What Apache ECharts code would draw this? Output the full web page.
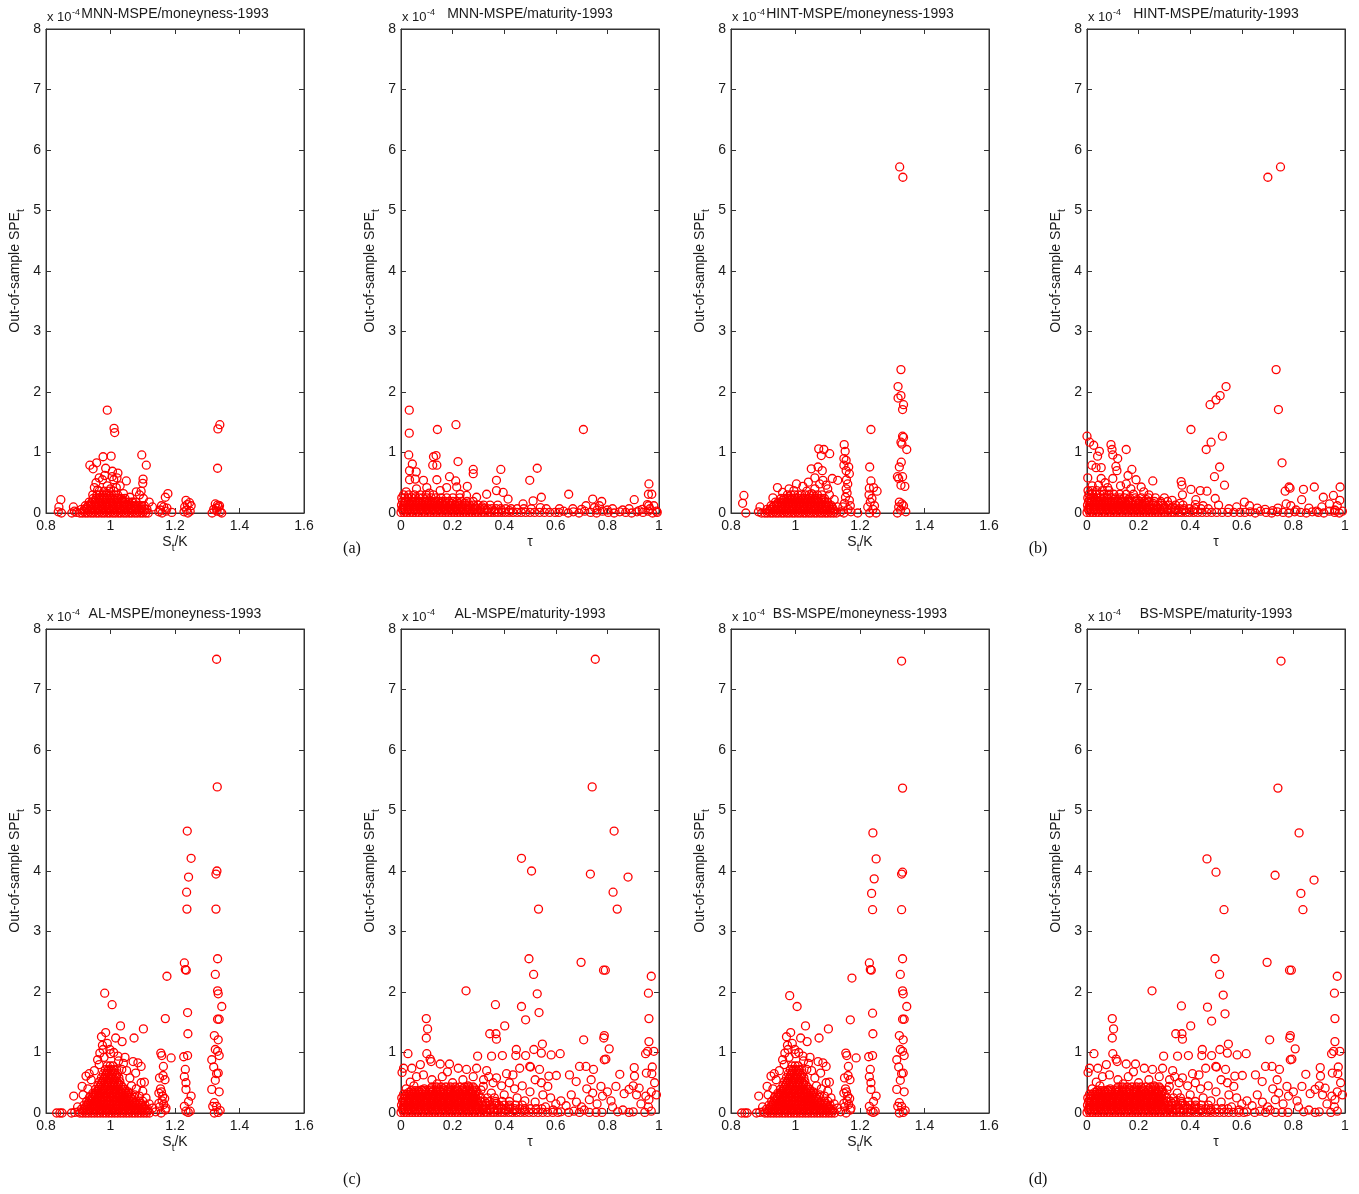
<!DOCTYPE html>
<html><head><meta charset="utf-8">
<script src="https://cdn.jsdelivr.net/npm/echarts/dist/echarts.min.js"></script>
<style>html,body{margin:0;padding:0;background:#fff}#c{width:1359px;height:1194px}</style>
</head><body><div id="c"></div>
<script>
// ---------- tick labels / text ----------
const yTicks = [0,1,2,3,4,5,6,7,8];            // in units of 1e-4
const moneyTicks = [0.8,1.0,1.2,1.4,1.6];
const maturityTicks = [0,0.2,0.4,0.6,0.8,1.0];
const titles = ['MNN-MSPE/moneyness-1993','MNN-MSPE/maturity-1993','HINT-MSPE/moneyness-1993','HINT-MSPE/maturity-1993',
                'AL-MSPE/moneyness-1993','AL-MSPE/maturity-1993','BS-MSPE/moneyness-1993','BS-MSPE/maturity-1993'];
const subLabels = ['(a)','(b)','(c)','(d)'];

// ---------- data (y in units of 1e-4) ----------
// dense cores: [y, [x values]] read row by row from the solid blobs
const mnnMoneyCore = [
 [0.00,[0.905,0.913,0.922,0.930,0.939,0.947,0.956,0.964,0.973,0.981,0.990,0.998,1.007,1.015,1.024,1.032,1.041,1.049,1.058,1.066,1.075,1.083,1.092,1.100,1.109,1.117]],
 [0.03,[0.918,0.935,0.951,0.968,0.985,1.002,1.019,1.036,1.053,1.070,1.087,1.104]],
 [0.06,[0.910,0.919,0.927,0.936,0.944,0.953,0.961,0.970,0.978,0.987,0.995,1.004,1.012,1.021,1.029,1.038,1.046,1.055,1.063,1.072,1.080,1.089,1.097,1.106,1.113]],
 [0.09,[0.926,0.943,0.960,0.977,0.994,1.011,1.028,1.045,1.062,1.079,1.096]],
 [0.12,[0.922,0.931,0.940,0.948,0.957,0.965,0.974,0.982,0.991,0.999,1.008,1.016,1.025,1.033,1.042,1.050,1.059,1.068,1.077,1.086,1.096,1.105]],
 [0.15,[0.938,0.955,0.972,0.989,1.006,1.023,1.040,1.060]],
 [0.18,[0.934,0.943,0.952,0.960,0.969,0.977,0.986,0.994,1.003,1.011,1.020,1.028,1.037,1.046,1.056,1.066,1.078]],
 [0.21,[0.952,0.968,0.985,1.002,1.019,1.038]],
 [0.24,[0.946,0.955,0.964,0.972,0.981,0.989,0.998,1.006,1.015,1.024,1.034,1.045]],
 [0.30,[0.958,0.967,0.976,0.985,0.994,1.003,1.012,1.022]],
 [0.36,[0.965,0.980,0.995,1.010]]
];
const mnnMoneyPts = [
 [0.990,1.70],[1.011,1.40],[1.013,1.33],[1.339,1.46],[1.333,1.39],[1.332,0.74],[1.097,0.96],[1.111,0.79],[1.101,0.56],[1.100,0.49],
 [0.977,0.93],[1.002,0.94],[0.936,0.79],[0.946,0.73],[0.957,0.83],[0.985,0.74],[1.006,0.69],[1.023,0.66],[1.049,0.53],[1.080,0.35],
 [0.965,0.58],[0.975,0.55],[0.955,0.50],[0.990,0.45],[1.010,0.55],[1.030,0.45],[1.005,0.60],[0.950,0.42],[0.982,0.62],[1.020,0.58],
 [1.040,0.32],[1.060,0.26],[1.090,0.30],[1.102,0.24],[1.120,0.18],[1.130,0.10],[1.070,0.18],[0.960,0.38],[1.000,0.40],[1.018,0.42],[0.945,0.30],[1.095,0.36],
 [1.178,0.32],[1.170,0.26],[1.165,0.10],[1.155,0.05],[1.160,0.00],[1.150,0.02],[1.172,0.03],[1.175,0.08],[1.190,0.01],[1.158,0.12],
 [1.234,0.21],[1.245,0.17],[1.250,0.12],[1.230,0.10],[1.236,0.05],[1.240,0.00],[1.228,0.02],[1.247,0.03],[1.238,0.14],
 [1.325,0.15],[1.332,0.13],[1.338,0.12],[1.320,0.06],[1.330,0.03],[1.340,0.02],[1.315,0.00],[1.345,0.00],[1.328,0.08],[1.335,0.10],
 [0.846,0.22],[0.840,0.10],[0.848,0.00],[0.838,0.02],[0.885,0.10],[0.888,0.03],[0.880,0.00],[0.895,0.01]
];
const mnnMatCore = [
 [0.01,[0.000,0.011,0.023,0.034,0.046,0.057,0.069,0.080,0.092,0.103,0.115,0.126,0.138,0.149,0.161,0.172,0.184,0.195,0.207,0.218,0.230,0.241,0.253,0.264,0.276,0.287,0.299,0.311,0.323,0.336,0.349,0.362,0.376,0.390,0.404,0.419,0.434,0.450,0.466,0.483,0.500,0.518,0.537,0.556,0.576,0.597]],
 [0.04,[0.008,0.031,0.054,0.077,0.100,0.123,0.146,0.169,0.192,0.215,0.238,0.261,0.284,0.308,0.333,0.360,0.390,0.420]],
 [0.07,[0.004,0.016,0.027,0.039,0.050,0.062,0.073,0.085,0.096,0.108,0.119,0.131,0.142,0.154,0.165,0.177,0.188,0.200,0.211,0.223,0.234,0.246,0.257,0.269,0.281,0.294,0.307,0.321,0.336,0.352,0.369,0.387,0.406,0.427,0.450,0.476,0.505]],
 [0.10,[0.010,0.033,0.056,0.079,0.102,0.125,0.148,0.171,0.194,0.217,0.240,0.263,0.288,0.315]],
 [0.13,[0.002,0.013,0.025,0.036,0.048,0.059,0.071,0.082,0.094,0.105,0.117,0.128,0.140,0.151,0.163,0.174,0.186,0.198,0.210,0.223,0.236,0.250,0.265,0.281,0.299,0.320,0.345,0.375]],
 [0.16,[0.012,0.035,0.058,0.081,0.104,0.127,0.150,0.173,0.196,0.220,0.245]],
 [0.19,[0.006,0.018,0.029,0.041,0.052,0.064,0.075,0.087,0.098,0.110,0.122,0.134,0.146,0.159,0.172,0.186,0.201,0.217,0.235,0.256,0.280]],
 [0.25,[0.003,0.015,0.028,0.041,0.055,0.069,0.084,0.100,0.117,0.135,0.155,0.177,0.201,0.228]],
 [0.30,[0.010,0.030,0.052,0.075,0.098,0.125]]
];
const mnnMatPts = [
 [0.032,1.70],[0.032,1.32],[0.213,1.46],[0.141,1.38],[0.707,1.38],[0.030,0.96],[0.044,0.81],[0.126,0.93],[0.136,0.95],[0.123,0.79],
 [0.139,0.79],[0.221,0.85],[0.280,0.72],[0.280,0.65],[0.387,0.72],[0.528,0.74],[0.499,0.54],[0.033,0.70],[0.059,0.68],[0.033,0.55],
 [0.055,0.56],[0.087,0.54],[0.139,0.55],[0.188,0.60],[0.212,0.53],[0.216,0.43],[0.257,0.44],[0.370,0.54],[0.650,0.31],[0.743,0.23],
 [0.778,0.19],[0.904,0.22],[0.961,0.48],[0.959,0.31],[0.972,0.31],[0.960,0.12],[0.980,0.12],[0.332,0.31],[0.370,0.37],[0.396,0.34],
 [0.415,0.23],[0.473,0.15],[0.512,0.20],[0.544,0.26],[0.540,0.09],[0.563,0.07],[0.614,0.07],[0.666,0.07],[0.717,0.12],[0.750,0.09],
 [0.769,0.12],[0.820,0.07],[0.859,0.05],[0.884,0.07],[0.923,0.04],[0.955,0.14],[0.991,0.03],[0.100,0.42],[0.152,0.37],[0.177,0.42],
 [0.229,0.31],[0.254,0.29],[0.293,0.26],[0.060,0.40],[0.020,0.35],[0.110,0.33],
 [0.612,0.01],[0.630,0.03],[0.648,0.00],[0.668,0.02],[0.690,0.00],[0.712,0.03],[0.735,0.01],[0.758,0.00],[0.781,0.03],[0.803,0.01],
 [0.826,0.00],[0.848,0.02],[0.871,0.01],[0.894,0.00],[0.915,0.02],[0.938,0.01],[0.958,0.03],[0.975,0.00],[0.993,0.01],[0.700,0.06],
 [0.760,0.05],[0.800,0.05],[0.935,0.06],[0.965,0.07]
];
const hintMoneyCore = [
 [0.00,[0.905,0.913,0.922,0.930,0.939,0.947,0.956,0.964,0.973,0.981,0.990,0.998,1.007,1.015,1.024,1.032,1.041,1.049,1.058,1.066,1.075,1.083,1.092,1.100,1.109,1.118,1.127]],
 [0.03,[0.918,0.935,0.952,0.969,0.986,1.003,1.020,1.037,1.054,1.071,1.088,1.105,1.121]],
 [0.06,[0.912,0.921,0.929,0.938,0.946,0.955,0.963,0.972,0.980,0.989,0.997,1.006,1.014,1.023,1.031,1.040,1.048,1.057,1.065,1.074,1.082,1.091,1.099,1.108,1.117]],
 [0.09,[0.928,0.945,0.962,0.979,0.996,1.013,1.030,1.047,1.064,1.081,1.098,1.114]],
 [0.12,[0.924,0.933,0.941,0.950,0.958,0.967,0.975,0.984,0.992,1.001,1.009,1.018,1.026,1.035,1.043,1.052,1.060,1.069,1.077,1.086,1.094,1.103,1.112]],
 [0.15,[0.942,0.959,0.976,0.993,1.010,1.027,1.044,1.061,1.078,1.095]],
 [0.18,[0.938,0.947,0.955,0.964,0.972,0.981,0.989,0.998,1.006,1.015,1.023,1.032,1.040,1.049,1.057,1.066,1.074,1.083,1.091,1.100]],
 [0.21,[0.962,0.979,0.996,1.013,1.030,1.047,1.064,1.081]],
 [0.24,[0.955,0.964,0.973,0.982,0.990,0.999,1.008,1.016,1.025,1.034,1.043,1.052,1.061,1.070,1.080,1.090]],
 [0.30,[0.975,0.986,0.997,1.008,1.019,1.030,1.042,1.055,1.068,1.082]]
];
const hintMoneyPts = [
 [1.323,5.72],[1.333,5.55],[1.327,2.37],[1.318,2.09],[1.318,1.90],[1.327,1.94],[1.335,1.79],[1.332,1.71],[1.332,1.27],[1.335,1.25],
 [1.327,1.17],[1.330,1.14],[1.345,1.05],[1.328,0.84],[1.322,0.76],[1.316,0.60],[1.332,0.60],[1.320,0.57],[1.339,0.44],[1.327,0.46],
 [1.322,0.18],[1.330,0.15],[1.320,0.10],[1.316,0.00],[1.342,0.02],[1.335,0.12],[1.326,0.05],
 [1.234,1.38],[1.230,0.76],[1.234,0.53],[1.229,0.41],[1.242,0.42],[1.253,0.36],[1.237,0.24],[1.224,0.10],[1.230,0.00],[1.250,0.00],
 [1.240,0.06],[1.232,0.18],[1.245,0.12],[1.228,0.30],
 [1.151,1.13],[1.154,1.02],[1.150,0.90],[1.157,0.87],[1.150,0.79],[1.165,0.76],[1.157,0.70],[1.167,0.65],[1.162,0.48],[1.157,0.40],
 [1.155,0.26],[1.167,0.21],[1.147,0.10],[1.172,0.02],[1.193,0.00],[1.160,0.33],[1.152,0.16],[1.163,0.06],[1.150,0.00],[1.170,0.12],[1.158,0.55],
 [1.072,1.06],[1.088,1.05],[1.080,0.95],[1.106,0.98],[1.070,0.76],[1.049,0.73],[1.083,0.70],[1.060,0.58],[1.085,0.54],[1.114,0.57],
 [1.131,0.54],[1.040,0.51],[1.095,0.46],[1.075,0.48],[1.100,0.40],[1.060,0.40],
 [0.840,0.29],[0.836,0.16],[0.846,0.00],[0.890,0.10],[0.885,0.02],[0.944,0.42],[1.003,0.48],[1.023,0.44],[0.995,0.37],[0.960,0.34],
 [1.035,0.36],[1.120,0.22],[1.130,0.10],[1.140,0.02],[0.930,0.25],[0.895,0.00],[0.980,0.40],[1.050,0.32],[1.105,0.30]
];
const hintMatCore = [
 [0.01,[0.000,0.011,0.023,0.034,0.046,0.057,0.069,0.080,0.092,0.103,0.115,0.126,0.138,0.149,0.161,0.172,0.184,0.195,0.207,0.218,0.230,0.241,0.253,0.264,0.276,0.288,0.300,0.313,0.326,0.339,0.353,0.367,0.382,0.397,0.413,0.429,0.446,0.464,0.483,0.503,0.524,0.546,0.569,0.593]],
 [0.04,[0.008,0.031,0.054,0.077,0.100,0.123,0.146,0.169,0.192,0.215,0.238,0.262,0.287,0.314,0.343,0.375,0.410]],
 [0.07,[0.004,0.016,0.027,0.039,0.050,0.062,0.073,0.085,0.096,0.108,0.119,0.131,0.142,0.154,0.165,0.177,0.188,0.200,0.211,0.223,0.234,0.246,0.258,0.270,0.283,0.296,0.310,0.325,0.341,0.358,0.376,0.396,0.418,0.442,0.470]],
 [0.10,[0.010,0.033,0.056,0.079,0.102,0.125,0.148,0.171,0.194,0.218,0.243,0.270,0.300,0.332]],
 [0.13,[0.002,0.013,0.025,0.036,0.048,0.059,0.071,0.082,0.094,0.105,0.117,0.128,0.140,0.151,0.163,0.175,0.187,0.200,0.213,0.227,0.242,0.258,0.276,0.296,0.318,0.343,0.372]],
 [0.16,[0.012,0.035,0.058,0.081,0.104,0.127,0.150,0.174,0.199,0.226,0.256,0.288]],
 [0.19,[0.006,0.018,0.029,0.041,0.052,0.064,0.075,0.087,0.098,0.110,0.122,0.134,0.147,0.160,0.174,0.189,0.205,0.222,0.241,0.262,0.286,0.312]],
 [0.22,[0.010,0.033,0.056,0.080,0.105,0.132,0.162,0.195,0.230]],
 [0.25,[0.003,0.015,0.027,0.039,0.052,0.065,0.079,0.094,0.110,0.127,0.145,0.165,0.187,0.211,0.238,0.265]],
 [0.31,[0.008,0.021,0.035,0.050,0.066,0.084,0.104,0.127,0.152,0.180]],
 [0.37,[0.004,0.020,0.038,0.060,0.085]]
];
const hintMatPts = [
 [0.701,5.55],[0.750,5.72],[0.733,2.37],[0.742,1.71],[0.756,0.83],[0.539,2.09],[0.516,1.94],[0.500,1.87],[0.477,1.79],[0.403,1.38],
 [0.525,1.27],[0.481,1.17],[0.462,1.05],[0.514,0.76],[0.494,0.60],[0.533,0.46],
 [0.000,1.27],[0.010,1.17],[0.026,1.12],[0.048,1.02],[0.041,0.94],[0.019,0.79],[0.035,0.75],[0.055,0.75],[0.093,1.13],[0.097,1.05],
 [0.100,0.96],[0.119,0.90],[0.112,0.77],[0.116,0.70],[0.100,0.57],[0.152,1.05],[0.174,0.72],[0.159,0.62],[0.152,0.48],[0.190,0.55],
 [0.210,0.43],[0.255,0.53],[0.003,0.58],[0.055,0.57],[0.045,0.46],
 [0.365,0.52],[0.368,0.46],[0.403,0.39],[0.439,0.37],[0.465,0.36],[0.422,0.22],[0.497,0.24],[0.787,0.41],[0.783,0.43],[0.768,0.36],
 [0.839,0.39],[0.881,0.43],[0.981,0.43],[0.916,0.26],[0.955,0.29],[0.980,0.21],[0.832,0.22],[0.772,0.15],
 [0.020,0.45],[0.070,0.50],[0.130,0.45],[0.080,0.42],[0.170,0.40],[0.220,0.35],[0.240,0.30],[0.300,0.25],[0.330,0.21],[0.370,0.30],
 [0.360,0.16],[0.420,0.14],[0.450,0.12],[0.510,0.13],[0.550,0.07],[0.580,0.10],[0.610,0.18],[0.630,0.12],[0.660,0.08],[0.690,0.06],
 [0.720,0.04],[0.740,0.08],[0.790,0.12],[0.810,0.05],[0.860,0.08],[0.890,0.03],[0.910,0.10],[0.940,0.15],[0.960,0.05],[0.970,0.12],[0.990,0.03],
 [0.612,0.01],[0.632,0.02],[0.652,0.00],[0.672,0.03],[0.694,0.01],[0.716,0.00],[0.738,0.02],[0.760,0.01],[0.782,0.00],[0.805,0.02],
 [0.828,0.01],[0.850,0.00],[0.873,0.02],[0.896,0.01],[0.918,0.00],[0.940,0.03],[0.960,0.01],[0.962,0.04],[0.978,0.00]
];
// AL and BS read identically below ~1.5e-4; the tall outliers are kept per model
const alBsMoneyCore = [
 [0.000,[0.905,0.914,0.923,0.932,0.941,0.950,0.959,0.968,0.977,0.986,0.995,1.004,1.013,1.022,1.031,1.040,1.049,1.058,1.067,1.076,1.085,1.094,1.103,1.112,1.121]],
 [0.033,[0.918,0.936,0.954,0.972,0.990,1.008,1.026,1.044,1.062,1.080,1.098,1.114]],
 [0.065,[0.910,0.919,0.928,0.937,0.946,0.955,0.964,0.973,0.982,0.991,1.000,1.009,1.018,1.027,1.036,1.045,1.054,1.063,1.072,1.081,1.090,1.099,1.108,1.116]],
 [0.098,[0.923,0.941,0.959,0.977,0.995,1.013,1.031,1.049,1.067,1.085,1.103]],
 [0.130,[0.918,0.927,0.936,0.945,0.954,0.963,0.972,0.981,0.990,0.999,1.008,1.017,1.026,1.035,1.044,1.053,1.062,1.071,1.080,1.089,1.098,1.107]],
 [0.163,[0.931,0.949,0.967,0.985,1.003,1.021,1.039,1.057,1.075,1.093]],
 [0.195,[0.926,0.935,0.944,0.953,0.962,0.971,0.980,0.989,0.998,1.007,1.016,1.025,1.034,1.043,1.052,1.061,1.070,1.080,1.090,1.100]],
 [0.228,[0.940,0.958,0.976,0.994,1.012,1.030,1.048,1.066]],
 [0.260,[0.935,0.944,0.953,0.962,0.971,0.980,0.989,0.998,1.007,1.016,1.025,1.034,1.043,1.052,1.062,1.073]],
 [0.293,[0.949,0.967,0.985,1.003,1.021,1.039,1.055]],
 [0.325,[0.945,0.954,0.963,0.972,0.981,0.990,0.999,1.008,1.017,1.026,1.035,1.045,1.056]],
 [0.358,[0.958,0.976,0.994,1.012,1.030,1.047]],
 [0.390,[0.953,0.962,0.971,0.980,0.989,0.998,1.007,1.016,1.025,1.034,1.044]],
 [0.423,[0.966,0.984,1.002,1.020,1.038]],
 [0.455,[0.961,0.970,0.979,0.988,0.997,1.006,1.015,1.024,1.033]],
 [0.488,[0.971,0.989,1.007,1.025]],
 [0.520,[0.966,0.975,0.984,0.993,1.002,1.011,1.020,1.029]],
 [0.553,[0.978,0.996,1.014]],
 [0.585,[0.972,0.981,0.990,0.999,1.008,1.017,1.026]],
 [0.618,[0.985,1.003,1.019]],
 [0.650,[0.978,0.987,0.996,1.005,1.014,1.022]],
 [0.683,[0.990,1.008]],
 [0.715,[0.984,0.993,1.002,1.011,1.019]],
 [0.780,[0.990,0.999,1.008]]
];
const alBsMoneyBody = [
 [1.332,2.55],[1.325,2.29],[1.332,2.02],[1.334,1.97],[1.345,1.76],[1.332,1.55],[1.337,1.55],[1.322,1.28],[1.334,1.21],[1.325,1.05],
 [1.332,1.02],[1.337,0.95],[1.314,0.88],[1.320,0.76],[1.334,0.66],[1.329,0.65],[1.325,0.54],[1.314,0.39],[1.337,0.35],[1.322,0.17],
 [1.329,0.11],[1.317,0.11],[1.340,0.04],[1.322,0.00],[1.334,0.01],
 [1.229,2.48],[1.232,2.37],[1.235,2.36],[1.240,1.31],[1.239,0.95],[1.227,0.93],[1.232,0.72],[1.229,0.60],[1.234,0.50],[1.234,0.39],
 [1.250,0.28],[1.242,0.19],[1.229,0.11],[1.234,0.03],[1.247,0.03],[1.241,0.01],
 [1.188,0.91],[1.156,0.99],[1.159,0.95],[1.164,0.77],[1.152,0.58],[1.169,0.55],[1.150,0.33],[1.162,0.28],[1.165,0.14],[1.152,0.10],
 [1.172,0.08],[1.157,0.00],[1.160,0.20],[1.168,0.24],[1.155,0.40],[1.170,0.05],[1.150,0.16],[1.163,0.62],[1.158,0.35],
 [0.985,1.33],[0.972,1.26],[1.016,1.24],[1.036,1.18],[1.031,1.44],[1.102,1.39],[1.073,1.24],[0.967,0.99],[0.977,1.05],[0.998,1.05],
 [1.023,0.94],[1.070,0.85],[1.085,0.83],[1.095,0.77],[1.078,0.66],[1.095,0.50],[1.105,0.51],[1.100,0.36],[0.934,0.65],[0.924,0.61],
 [0.912,0.44],[0.886,0.28],[0.843,0.00],[0.833,0.00],[0.879,0.00],[0.889,0.01],[0.850,0.00],
 [0.975,1.12],[0.990,1.15],[0.980,0.92],[0.960,0.88],[1.010,1.00],[1.025,0.86],[1.040,0.82],[1.050,0.70],[1.060,0.58],[1.045,0.92],
 [0.950,0.70],[0.940,0.55],[0.930,0.40],[1.065,0.45],[1.080,0.40],[1.090,0.28],[1.110,0.25],[1.120,0.15],[1.130,0.08],[1.140,0.02],
 [0.915,0.30],[0.898,0.10],[0.900,0.02],[1.000,0.98],[0.965,0.80],[1.035,0.72],[1.055,0.35],[1.075,0.30]
];
const alMoneyTop = [
 [1.329,7.50],[1.331,5.39],[1.238,4.66],[1.250,4.21],[1.242,3.90],[1.236,3.65],[1.237,3.37],[1.330,4.00],[1.327,3.95],[1.327,3.37],
 [1.239,1.66],[1.175,2.26],[1.170,1.56],[0.982,1.98],[1.005,1.79]
];
const bsMoneyTop = [
 [1.329,7.47],[1.332,5.37],[1.240,4.63],[1.250,4.20],[1.244,3.87],[1.236,3.63],[1.239,3.36],[1.332,3.98],[1.329,3.95],[1.329,3.36],
 [1.239,1.65],[1.175,2.23],[1.170,1.54],[0.982,1.94],[1.005,1.76]
];
const alBsMatCore = [
 [0.01,[0.000,0.011,0.022,0.033,0.044,0.055,0.066,0.077,0.088,0.099,0.110,0.121,0.132,0.143,0.154,0.165,0.176,0.187,0.198,0.209,0.220,0.231,0.242,0.253,0.264,0.275,0.286,0.297,0.309,0.321,0.334,0.347,0.360,0.374,0.388,0.402,0.417,0.432,0.447,0.463,0.479,0.496,0.513,0.531,0.549,0.568,0.588,0.608]],
 [0.04,[0.008,0.030,0.052,0.074,0.096,0.118,0.140,0.162,0.184,0.206,0.228,0.250,0.272,0.294,0.318,0.345,0.374,0.405,0.440,0.478]],
 [0.07,[0.005,0.016,0.027,0.038,0.049,0.060,0.071,0.082,0.093,0.104,0.115,0.126,0.137,0.148,0.159,0.170,0.181,0.192,0.203,0.214,0.225,0.236,0.247,0.258,0.269,0.280,0.291,0.303,0.316,0.330,0.344,0.359,0.374,0.390,0.406,0.423,0.441,0.460,0.480,0.501,0.523,0.546]],
 [0.10,[0.010,0.032,0.054,0.076,0.098,0.120,0.142,0.164,0.186,0.208,0.230,0.252,0.274,0.296,0.322,0.352,0.385,0.420]],
 [0.13,[0.002,0.013,0.024,0.035,0.046,0.057,0.068,0.079,0.090,0.101,0.112,0.123,0.134,0.145,0.156,0.167,0.178,0.189,0.200,0.211,0.222,0.233,0.244,0.255,0.266,0.277,0.288,0.300,0.314,0.329,0.345,0.362,0.380,0.400,0.421,0.444,0.470]],
 [0.16,[0.012,0.034,0.056,0.078,0.100,0.122,0.144,0.166,0.188,0.210,0.232,0.254,0.276,0.298,0.330,0.368]],
 [0.19,[0.006,0.017,0.028,0.039,0.050,0.061,0.072,0.083,0.094,0.105,0.116,0.127,0.138,0.149,0.160,0.171,0.182,0.193,0.204,0.215,0.226,0.237,0.248,0.259,0.270,0.281,0.293,0.308,0.325,0.344,0.366,0.392,0.420]],
 [0.22,[0.010,0.032,0.054,0.076,0.098,0.120,0.142,0.164,0.186,0.208,0.230,0.252,0.274,0.296]],
 [0.25,[0.003,0.014,0.025,0.036,0.047,0.058,0.069,0.080,0.091,0.102,0.113,0.124,0.135,0.146,0.157,0.168,0.179,0.190,0.201,0.212,0.223,0.234,0.245,0.256,0.267,0.278,0.290,0.310,0.335,0.362]],
 [0.28,[0.016,0.038,0.060,0.082,0.104,0.126,0.148,0.170,0.192,0.214,0.236,0.258,0.280]],
 [0.31,[0.010,0.022,0.034,0.046,0.058,0.070,0.082,0.094,0.106,0.118,0.130,0.142,0.154,0.166,0.178,0.190,0.202,0.214,0.226,0.238,0.250,0.262,0.274,0.286,0.300]],
 [0.34,[0.030,0.052,0.074,0.096,0.118,0.140,0.162,0.184,0.206,0.228,0.250,0.272,0.292]],
 [0.37,[0.040,0.054,0.068,0.082,0.096,0.110,0.124,0.138,0.152,0.166,0.180,0.194,0.208,0.222,0.236,0.250,0.264,0.278,0.290]],
 [0.40,[0.090,0.115,0.140,0.165,0.190,0.215,0.240,0.265,0.285]],
 [0.43,[0.120,0.138,0.156,0.174,0.192,0.210,0.228,0.246,0.264,0.280]]
];
const alBsMatBody = [
 [0.698,2.49],[0.785,2.36],[0.792,2.36],[0.970,2.26],[0.252,2.02],[0.959,1.98],[0.961,1.56],[0.098,1.56],[0.103,1.39],[0.098,1.24],
 [0.402,1.44],[0.344,1.31],[0.368,1.31],[0.370,1.22],[0.708,1.21],[0.788,1.28],[0.786,1.24],[0.961,1.18],[0.956,1.02],[0.948,0.98],
 [0.980,1.02],[0.807,1.06],[0.794,0.89],[0.788,0.88],[0.027,0.98],[0.100,0.98],[0.113,0.89],[0.117,0.85],[0.515,1.05],[0.544,0.99],
 [0.548,1.14],[0.445,0.95],[0.483,0.95],[0.447,1.05],[0.297,0.94],[0.351,0.94],[0.393,0.95],[0.582,0.96],[0.617,0.98],
 [0.692,0.77],[0.717,0.77],[0.746,0.72],[0.848,0.64],[0.904,0.75],[0.905,0.61],[0.951,0.66],[0.974,0.76],[0.972,0.65],[0.983,0.50],
 [0.602,0.62],[0.653,0.63],[0.679,0.52],[0.737,0.55],[0.775,0.44],[0.833,0.44],[0.865,0.32],[0.884,0.39],[0.923,0.41],[0.913,0.30],
 [0.949,0.28],[0.961,0.22],[0.959,0.10],[0.945,0.01],[0.884,0.01],[0.814,0.20],[0.730,0.22],[0.743,0.33],[0.781,0.28],[0.756,0.01],
 [0.779,0.01],[0.730,0.01],[0.692,0.01],[0.650,0.01],
 [0.573,0.61],[0.569,0.44],[0.544,0.50],[0.499,0.77],[0.502,0.76],[0.537,0.72],[0.332,0.70],[0.409,0.65],[0.434,0.63],[0.460,0.74],
 [0.357,0.50],[0.319,0.44],[0.152,0.81],[0.188,0.81],[0.222,0.74],[0.254,0.72],[0.293,0.74],[0.004,0.67],[0.010,0.74],[0.042,0.74],
 [0.075,0.80],[0.087,0.63],[0.036,0.51],
 [0.320,0.55],[0.340,0.60],[0.370,0.58],[0.390,0.45],[0.420,0.50],[0.440,0.40],[0.470,0.45],[0.500,0.35],[0.520,0.55],[0.550,0.30],
 [0.580,0.25],[0.600,0.15],[0.620,0.20],[0.640,0.12],[0.660,0.30],[0.680,0.18],[0.700,0.10],[0.720,0.40],[0.760,0.15],[0.800,0.35],
 [0.820,0.10],[0.860,0.05],[0.900,0.45],[0.930,0.15],[0.970,0.35],[0.990,0.30],[0.310,0.38],[0.350,0.33],[0.400,0.30],[0.450,0.25],
 [0.480,0.20],[0.520,0.18],[0.560,0.10],[0.590,0.05],[0.620,0.02],[0.670,0.03],[0.710,0.05],[0.840,0.02],[0.900,0.02],[0.970,0.03],
 [0.050,0.45],[0.120,0.55],[0.160,0.60],[0.200,0.50],[0.240,0.55],[0.280,0.60],[0.140,0.48],[0.260,0.45],[0.020,0.40],[0.080,0.38],
 [0.180,0.68],[0.060,0.60]
];
const alMatTop = [
 [0.753,7.50],[0.741,5.39],[0.826,4.66],[0.467,4.21],[0.506,4.00],[0.734,3.95],[0.880,3.90],[0.822,3.65],[0.533,3.37],[0.838,3.37],
 [0.496,2.55],[0.514,2.29],[0.528,1.97],[0.366,1.79],[0.467,1.76],[0.535,1.66],[0.483,1.54]
];
const bsMatTop = [
 [0.752,7.47],[0.740,5.37],[0.822,4.63],[0.465,4.20],[0.500,3.98],[0.729,3.93],[0.880,3.85],[0.829,3.63],[0.531,3.36],[0.837,3.36],
 [0.496,2.55],[0.514,2.29],[0.528,1.95],[0.366,1.77],[0.467,1.75],[0.535,1.64],[0.483,1.52]
];

// ---------- assembly ----------
function expandRows(rows){ const out=[]; rows.forEach(([y,xs])=>xs.forEach(x=>out.push([x,y]))); return out; }
const panelData = [
  expandRows(mnnMoneyCore).concat(mnnMoneyPts),
  expandRows(mnnMatCore).concat(mnnMatPts),
  expandRows(hintMoneyCore).concat(hintMoneyPts),
  expandRows(hintMatCore).concat(hintMatPts),
  expandRows(alBsMoneyCore).concat(alBsMoneyBody, alMoneyTop),
  expandRows(alBsMatCore).concat(alBsMatBody, alMatTop),
  expandRows(alBsMoneyCore).concat(alBsMoneyBody, bsMoneyTop),
  expandRows(alBsMatCore).concat(alBsMatBody, bsMatTop)
];

// ---------- layout ----------
const colLeft = [46, 401, 731, 1087];
const rowTop = [29, 629];
const W = 258, H = 484;
const FONT = "'Liberation Sans', Arial, Helvetica, sans-serif";
const AX = '#333', TXT = '#1a1a1a';
const fmt = v => String(Math.round(v * 10) / 10);

const grids = [], xAxes = [], yAxes = [], series = [], graphics = [];
for (let i = 0; i < 8; i++) {
  const row = i < 4 ? 0 : 1, col = i % 4;
  const left = colLeft[col], top = rowTop[row];
  const ticks = (col % 2 === 0) ? moneyTicks : maturityTicks;
  grids.push({left, top, width: W, height: H, show: true, borderColor: AX, borderWidth: 1, backgroundColor: 'transparent'});
  const xBase = {gridIndex: i, type: 'value', min: ticks[0], max: ticks[ticks.length-1],
    interval: Math.round((ticks[1]-ticks[0])*10)/10, splitLine: {show: false},
    axisLine: {show: true, onZero: false, lineStyle: {color: AX, width: 1}},
    axisTick: {show: true, inside: true, length: 5, lineStyle: {color: AX}}};
  xAxes.push(Object.assign({}, xBase, {position: 'bottom',
    axisLabel: {show: true, margin: 6, color: TXT, fontSize: 14, fontFamily: FONT, formatter: fmt, showMinLabel: true, showMaxLabel: true}}));
  xAxes.push(Object.assign({}, xBase, {position: 'top', axisLabel: {show: false}}));
  const yBase = {gridIndex: i, type: 'value', min: yTicks[0], max: yTicks[yTicks.length-1], interval: yTicks[1]-yTicks[0],
    splitLine: {show: false},
    axisLine: {show: true, onZero: false, lineStyle: {color: AX, width: 1}},
    axisTick: {show: true, inside: true, length: 5, lineStyle: {color: AX}}};
  yAxes.push(Object.assign({}, yBase, {position: 'left',
    axisLabel: {show: true, margin: 5, color: TXT, fontSize: 14, fontFamily: FONT, showMinLabel: true, showMaxLabel: true}}));
  yAxes.push(Object.assign({}, yBase, {position: 'right', axisLabel: {show: false}}));
  series.push({type: 'scatter', xAxisIndex: 2*i, yAxisIndex: 2*i, data: panelData[i], clip: false, silent: true,
    symbol: 'circle', symbolSize: 8,
    itemStyle: {color: 'rgba(255,255,255,0)', borderColor: '#ff0000', borderWidth: 1.3, opacity: 1}});

  // exponent + title
  graphics.push({type: 'text', x: left + 1, y: top - 11.5, silent: true,
    style: {text: 'x 10', fontSize: 13, fontFamily: FONT, fill: TXT, align: 'left', verticalAlign: 'middle'}});
  graphics.push({type: 'text', x: left + 26, y: top - 16.5, silent: true,
    style: {text: '-4', fontSize: 9, fontFamily: FONT, fill: TXT, align: 'left', verticalAlign: 'middle'}});
  graphics.push({type: 'text', x: left + W/2, y: top - 15, silent: true,
    style: {text: titles[i], fontSize: 14, fontFamily: FONT, fill: TXT, align: 'center', verticalAlign: 'middle'}});
  // y axis name
  graphics.push({type: 'text', x: left - 31, y: top + H/2, rotation: Math.PI/2, silent: true,
    style: {text: 'Out-of-sample SPE{s|t}', fontSize: 14, fontFamily: FONT, fill: TXT, align: 'center', verticalAlign: 'middle',
      lineHeight: 22, rich: {s: {fontSize: 10, fontFamily: FONT, fill: TXT, verticalAlign: 'bottom'}}}});
  // x axis name
  graphics.push({type: 'text', x: left + W/2, y: top + H + 29, silent: true,
    style: {text: (col % 2 === 0) ? 'S{s|t}/K' : 'τ', fontSize: 14, fontFamily: FONT, fill: TXT, align: 'center', verticalAlign: 'middle',
      lineHeight: 22, rich: {s: {fontSize: 10, fontFamily: FONT, fill: TXT, verticalAlign: 'bottom'}}}});
}
// (a)-(d)
const subPos = [[352, 549], [1038, 549], [352, 1180], [1038, 1180]];
subLabels.forEach((t, k) => graphics.push({type: 'text', x: subPos[k][0], y: subPos[k][1], silent: true,
  style: {text: t, fontSize: 16, fontFamily: "'Liberation Serif', 'Times New Roman', serif", fill: '#111', align: 'center', verticalAlign: 'middle'}}));

const chart = echarts.init(document.getElementById('c'), null, {renderer: 'canvas'});
chart.setOption({animation: false, backgroundColor: '#fff', grid: grids, xAxis: xAxes, yAxis: yAxes, series, graphic: graphics});
</script></body></html>
